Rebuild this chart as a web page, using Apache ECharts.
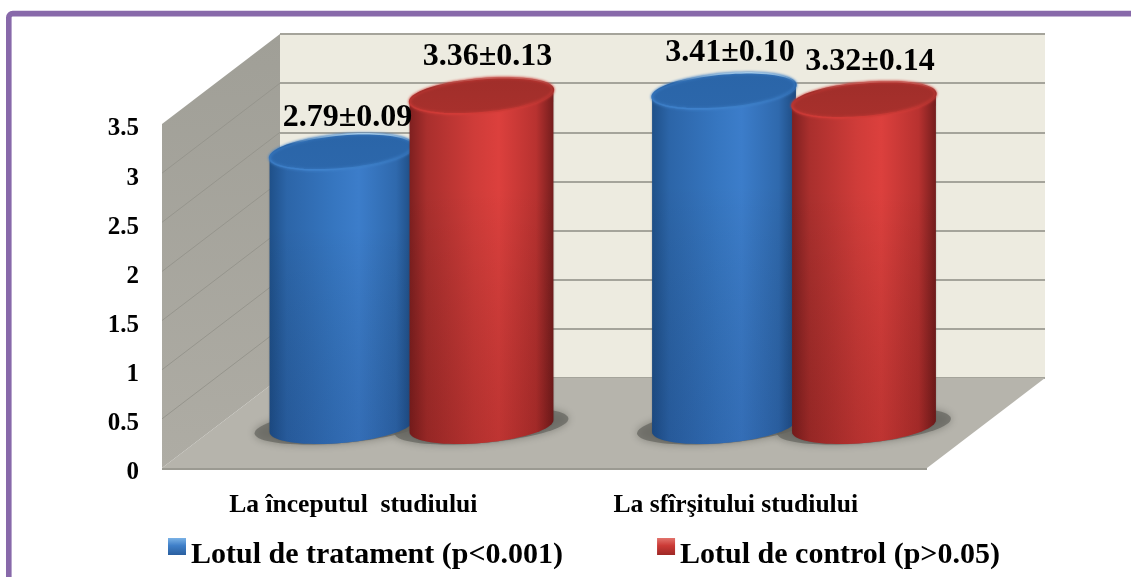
<!DOCTYPE html>
<html>
<head>
<meta charset="utf-8">
<style>
  html, body { margin: 0; padding: 0; background: #fff; }
  #chart { width: 1131px; height: 577px; }
</style>
<script src="https://cdn.jsdelivr.net/npm/echarts@6/dist/echarts.min.js"></script>
</head>
<body>
<div id="chart"></div>
<script>
// Study data: mean and standard deviation per group at each time point
const categories = ['La începutul  studiului', 'La sfîrşitului studiului'];
const treatmentName = 'Lotul de tratament (p<0.001)';
const controlName = 'Lotul de control (p>0.05)';
const treatmentMeans = [2.79, 3.41];
const treatmentDevs = [0.09, 0.10];
const controlMeans = [3.36, 3.32];
const controlDevs = [0.13, 0.14];
const yTicks = [0, 0.5, 1, 1.5, 2, 2.5, 3, 3.5];

const FONT = '"Liberation Serif", "Times New Roman", serif';
const Y_MAX = 3.5;

// Oblique depth of the box, in pixels
const DEPTH_X = 118;
const DEPTH_Y = -90;

const bluePalette = {
  body: ['#1f5089', '#2c65a8', '#3676c0', '#3c7dca', '#2f69ad', '#1d4a80'],
  shade: 'rgba(10,30,80,0.16)',
  cap: ['#2a65a8', '#2c67ab'],
  rim: ['#a8cdea', '#3f82cc'],
  lift: [34, 38]
};
const redPalette = {
  body: ['#7e2020', '#a92f2d', '#cf3c39', '#dc403d', '#b83230', '#741d1d'],
  shade: 'rgba(70,5,5,0.2)',
  cap: ['#a02e2a', '#a8302c'],
  rim: ['#c9605a', '#d23b37'],
  lift: [39, 38]
};

// Points along a slightly tilted ellipse, t running from t0 to t1 radians
function ellipseArc(cx, cy, rx, ry, t0, t1, steps) {
  const tilt = 1 / 12;
  const pts = [];
  for (let i = 0; i <= steps; i++) {
    const t = t0 + (t1 - t0) * i / steps;
    const dx = rx * Math.cos(t);
    pts.push([cx + dx, cy + ry * Math.sin(t) - tilt * dx]);
  }
  return pts;
}

function vertical(stops) {
  return new echarts.graphic.LinearGradient(0, 0, 0, 1, stops);
}

// Draws one cylinder from [category index, value, deviation]
function cylinder(palette, side) {
  return function (params, api) {
    const idx = api.value(0);
    const value = api.value(1);
    const dev = api.value(2);
    const band = api.size([1, 0])[0];
    const rx = band * 0.188;
    const ry = 17;
    const top = api.coord([idx, value]);
    const base = api.coord([idx, 0]);
    const cx = top[0] + side * band * 0.183;

    const outline = ellipseArc(cx, top[1], rx, ry, Math.PI, 2 * Math.PI, 40)
      .concat(ellipseArc(cx, base[1], rx, ry, 0, Math.PI, 40));
    const cap = ellipseArc(cx, top[1], rx, ry, 0, 2 * Math.PI, 80);
    const b = palette.body;

    return {
      type: 'group',
      children: [
        {
          type: 'polygon',
          shape: { points: outline },
          style: {
            fill: new echarts.graphic.LinearGradient(0, 0, 1, 0, [
              { offset: 0, color: b[0] },
              { offset: 0.12, color: b[1] },
              { offset: 0.45, color: b[2] },
              { offset: 0.62, color: b[3] },
              { offset: 0.88, color: b[4] },
              { offset: 1, color: b[5] }
            ]),
            shadowBlur: 2,
            shadowColor: 'rgba(60,60,60,0.4)'
          }
        },
        {
          type: 'polygon',
          shape: { points: outline },
          style: {
            fill: vertical([
              { offset: 0, color: 'rgba(0,0,0,0)' },
              { offset: 0.3, color: 'rgba(0,0,0,0)' },
              { offset: 1, color: palette.shade }
            ])
          }
        },
        {
          type: 'polygon',
          shape: { points: cap },
          style: {
            fill: vertical([
              { offset: 0, color: palette.cap[0] },
              { offset: 1, color: palette.cap[1] }
            ]),
            stroke: vertical([
              { offset: 0, color: palette.rim[0] },
              { offset: 0.3, color: palette.cap[0] },
              { offset: 1, color: palette.rim[1] }
            ]),
            lineWidth: 1.5,
            shadowBlur: 3,
            shadowColor: palette.rim[1]
          }
        },
        {
          type: 'text',
          z2: 20,
          style: {
            text: value.toFixed(2) + '±' + dev.toFixed(2),
            x: cx + 6,
            y: top[1] - palette.lift[idx],
            align: 'center',
            verticalAlign: 'middle',
            font: 'bold 32px ' + FONT,
            fill: '#000'
          }
        }
      ]
    };
  };
}

// Soft contact shadow on the floor, under each cylinder
function floorShadow(params, api) {
  const idx = api.value(0);
  const side = api.value(1);
  const band = api.size([1, 0])[0];
  const base = api.coord([idx, 0]);
  const cx = base[0] + side * band * 0.183;
  return {
    type: 'polygon',
    shape: { points: ellipseArc(cx, base[1], band * 0.188 + 15, 17, 0, 2 * Math.PI, 80) },
    style: { fill: 'rgba(100,100,94,0.7)', shadowBlur: 9, shadowColor: 'rgba(90,90,84,0.8)' }
  };
}

// Side wall, floor and the slanted grid lines, from the front axis scale
function boxFaces(params, api) {
  const tick = api.value(1);
  const band = api.size([1, 0])[0];
  const left = api.coord([0, 0])[0] - band / 2;
  const right = api.coord([1, 0])[0] + band / 2;
  const frontLeft = [left, api.coord([0, 0])[1]];
  const frontTop = [left, api.coord([0, Y_MAX])[1]];
  const frontRight = [right, frontLeft[1]];
  const back = function (q) { return [q[0] + DEPTH_X, q[1] + DEPTH_Y]; };
  const start = [left, api.coord([0, tick])[1]];
  const children = [];
  if (tick === 0) {
    children.push({
      type: 'polygon',
      shape: { points: [frontLeft, frontTop, back(frontTop), back(frontLeft)] },
      style: { fill: vertical([{ offset: 0, color: '#a09f97' }, { offset: 1, color: '#aeaca4' }]) }
    });
    children.push({
      type: 'polygon',
      z2: 1,
      shape: { points: [frontLeft, frontRight, back(frontRight), back(frontLeft)] },
      style: { fill: '#b6b4ac' }
    });
    children.push({
      type: 'line',
      z2: 2,
      shape: { x1: frontLeft[0], y1: frontLeft[1] + 1, x2: frontRight[0], y2: frontRight[1] + 1 },
      style: { stroke: '#9b9a92', lineWidth: 2 }
    });
  } else if (tick < Y_MAX) {
    const end = back(start);
    children.push({
      type: 'line',
      z2: 2,
      shape: { x1: start[0], y1: start[1], x2: end[0], y2: end[1] },
      style: { stroke: '#96958d', lineWidth: 1 }
    });
  }
  return { type: 'group', children: children };
}

const shadowData = [];
categories.forEach(function (c, i) {
  shadowData.push([i, -1], [i, 1]);
});

const hiddenCategory = function (gridIndex) {
  return { gridIndex: gridIndex, type: 'category', data: categories, show: false };
};

const boldSerif = { fontFamily: FONT, fontWeight: 'bold', color: '#000' };

const chart = echarts.init(document.getElementById('chart'), null, { renderer: 'canvas' });
chart.setOption({
  animation: false,
  backgroundColor: '#fff',
  graphic: [{
    type: 'rect',
    silent: true,
    z: 0,
    shape: { x: 8.8, y: 13.6, width: 1300, height: 800, r: 4 },
    style: { fill: 'none', stroke: '#8869aa', lineWidth: 5.6 }
  }],
  legend: {
    left: 163,
    top: 533,
    itemWidth: 18,
    itemHeight: 17,
    itemGap: 94,
    icon: 'rect',
    data: [
      { name: treatmentName, itemStyle: { color: vertical([{ offset: 0, color: '#7ab2e6' }, { offset: 0.45, color: '#3f7fc8' }, { offset: 1, color: '#2a5f9f' }]) } },
      { name: controlName, itemStyle: { color: vertical([{ offset: 0, color: '#e2736c' }, { offset: 0.45, color: '#cb3a36' }, { offset: 1, color: '#9e2826' }]) } }
    ],
    formatter: function (name) { return '{t|' + name + '}'; },
    textStyle: {
      rich: { t: Object.assign({ fontSize: 30, padding: [18, 0, 0, 0] }, boldSerif) }
    }
  },
  grid: [
    // front plane: carries the visible axes
    { left: 162, top: 124, width: 765, height: 344 },
    // middle plane: the cylinders stand here
    { left: 220.25, top: 82, width: 765, height: 344 },
    // back plane: wall fill and horizontal grid lines
    { left: 280, top: 34, width: 765, height: 344, show: true, backgroundColor: '#edebe0', borderWidth: 0 }
  ],
  xAxis: [
    {
      gridIndex: 0,
      type: 'category',
      data: categories,
      axisLine: { show: false },
      axisTick: { show: false },
      axisLabel: Object.assign({ margin: 24, interval: 0, fontSize: 25.6 }, boldSerif)
    },
    hiddenCategory(1),
    hiddenCategory(2)
  ],
  yAxis: [
    {
      gridIndex: 0,
      type: 'value',
      min: 0,
      max: Y_MAX,
      interval: 0.5,
      axisLine: { show: false },
      axisTick: { show: false },
      splitLine: { show: false },
      axisLabel: {
        margin: 23,
        formatter: function (v) { return '{v|' + v + '}'; },
        rich: { v: Object.assign({ fontSize: 25, padding: [10, 0, 0, 0] }, boldSerif) }
      }
    },
    { gridIndex: 1, type: 'value', min: 0, max: Y_MAX, interval: 0.5, show: false },
    {
      gridIndex: 2,
      type: 'value',
      min: 0,
      max: Y_MAX,
      interval: 0.5,
      axisLine: { show: false },
      axisTick: { show: false },
      axisLabel: { show: false },
      splitLine: { show: true, lineStyle: { color: '#a5a49b', width: 2 } }
    }
  ],
  series: [
    {
      type: 'custom',
      xAxisIndex: 0,
      yAxisIndex: 0,
      z: 1,
      silent: true,
      clip: false,
      renderItem: boxFaces,
      encode: { x: 0, y: 1 },
      data: yTicks.map(function (t) { return [0, t]; })
    },
    {
      type: 'custom',
      xAxisIndex: 1,
      yAxisIndex: 1,
      z: 2,
      silent: true,
      clip: false,
      renderItem: floorShadow,
      encode: { x: 0 },
      data: shadowData
    },
    {
      type: 'custom',
      name: treatmentName,
      xAxisIndex: 1,
      yAxisIndex: 1,
      z: 3,
      clip: false,
      renderItem: cylinder(bluePalette, -1),
      encode: { x: 0, y: 1 },
      data: treatmentMeans.map(function (v, i) { return [i, v, treatmentDevs[i]]; })
    },
    {
      type: 'custom',
      name: controlName,
      xAxisIndex: 1,
      yAxisIndex: 1,
      z: 3,
      clip: false,
      renderItem: cylinder(redPalette, 1),
      encode: { x: 0, y: 1 },
      data: controlMeans.map(function (v, i) { return [i, v, controlDevs[i]]; })
    }
  ]
});
</script>
</body>
</html>
